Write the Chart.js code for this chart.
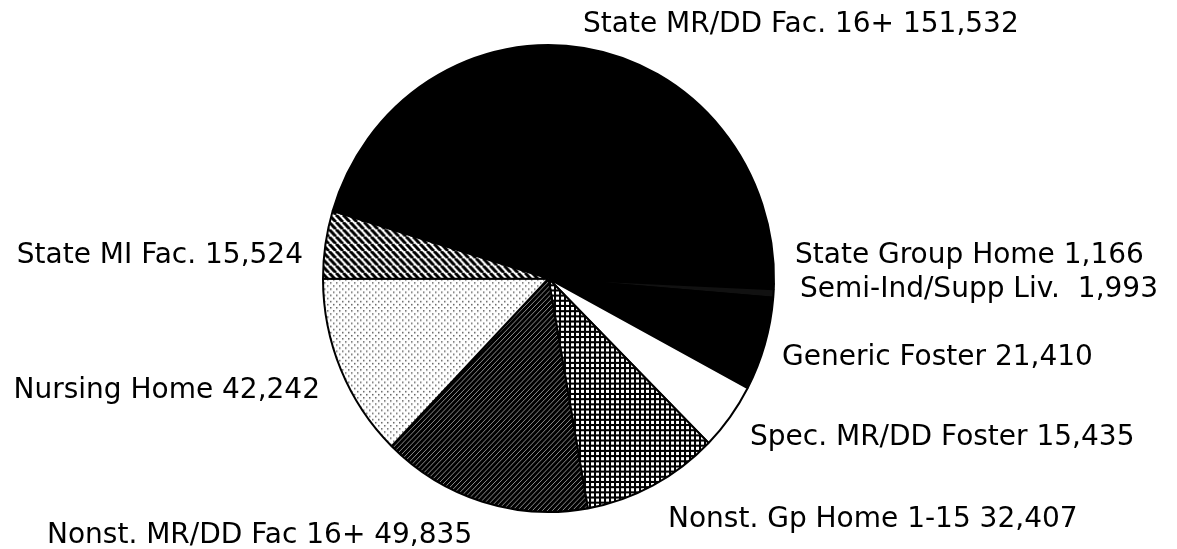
<!DOCTYPE html>
<html lang="en">
  <head>
    <meta charset="UTF-8" />
    <title>Residential placements</title>
    <script src="https://cdn.jsdelivr.net/npm/chart.js"></script>
    <style>
      body { margin: 0; background: #fff; }
      #myChart { display: block; }
    </style>
  </head>
  <body>
    <canvas id="myChart" width="1177" height="549"></canvas>

    <script>
      var categories = [
        "State MR/DD Fac. 16+",
        "State Group Home",
        "Semi-Ind/Supp Liv. ",
        "Generic Foster",
        "Spec. MR/DD Foster",
        "Nonst. Gp Home 1-15",
        "Nonst. MR/DD Fac 16+",
        "Nursing Home",
        "State MI Fac.",
      ];
      var residents = [151532, 1166, 1993, 21410, 15435, 32407, 49835, 42242, 15524];

      // where each label sits: x, text baseline, alignment
      var labelSpots = [
        [583, 32, "left"],
        [795, 263, "left"],
        [800, 297, "left"],
        [782, 365, "left"],
        [750, 445, "left"],
        [668, 527, "left"],
        [47, 543, "left"],
        [320, 398, "right"],
        [303, 263, "right"],
      ];

      function withCommas(v) {
        return String(v).replace(/\B(?=(\d{3})+(?!\d))/g, ",");
      }

      var ctx = document.getElementById("myChart").getContext("2d");

      function makePattern(size, draw) {
        var c = document.createElement("canvas");
        c.width = size;
        c.height = size;
        draw(c.getContext("2d"), size);
        return ctx.createPattern(c, "repeat");
      }

      // state MI: white with heavy "\" hatching
      var backHatch = makePattern(7, function (g, s) {
        g.fillStyle = "#fff";
        g.fillRect(0, 0, s, s);
        g.strokeStyle = "#000";
        g.lineWidth = 3;
        for (var k = -s; k <= s; k += s) {
          g.beginPath();
          g.moveTo(k, 0);
          g.lineTo(k + s, s);
          g.stroke();
        }
      });

      // nonst. group home: black grid with white holes
      var dotGrid = makePattern(5, function (g, s) {
        g.fillStyle = "#000";
        g.fillRect(0, 0, s, s);
        g.fillStyle = "#fff";
        g.fillRect(1, 1, 3, 3);
      });

      // nonst. MR/DD: dark with fine "/" lines
      var fineHatch = makePattern(5, function (g, s) {
        g.fillStyle = "#000";
        g.fillRect(0, 0, s, s);
        g.strokeStyle = "rgba(255,255,255,0.55)";
        g.lineWidth = 1;
        for (var k = -s; k <= s; k += s) {
          g.beginPath();
          g.moveTo(k, s);
          g.lineTo(k + s, 0);
          g.stroke();
        }
      });

      // nursing home: light stipple
      var stipple = makePattern(6, function (g, s) {
        g.fillStyle = "#fff";
        g.fillRect(0, 0, s, s);
        g.fillStyle = "rgba(0,0,0,0.6)";
        g.fillRect(0, 0, 1.5, 1.5);
        g.fillRect(3, 3, 1.5, 1.5);
      });

      var sliceFills = ["#000", "#000", "#111", "#000", "#fff", dotGrid, fineHatch, stipple, backHatch];

      // the original pie is a touch taller than wide
      var stretchPie = {
        id: "stretchPie",
        beforeDatasetsDraw: function (chart) {
          var arc = chart.getDatasetMeta(0).data[0];
          var c = chart.ctx;
          c.save();
          c.translate(arc.x, arc.y);
          c.scale(1, 234.5 / 226.5);
          c.translate(-arc.x, -arc.y);
        },
        afterDatasetsDraw: function (chart) {
          chart.ctx.restore();
        },
      };

      var sliceLabels = {
        id: "sliceLabels",
        afterDraw: function (chart) {
          var c = chart.ctx;
          c.save();
          c.fillStyle = "#000";
          c.font = "28px 'DejaVu Sans'";
          c.textBaseline = "alphabetic";
          for (var i = 0; i < categories.length; i++) {
            c.textAlign = labelSpots[i][2];
            c.fillText(categories[i] + " " + withCommas(residents[i]), labelSpots[i][0], labelSpots[i][1]);
          }
          c.restore();
        },
      };

      var myChart = new Chart(ctx, {
        type: "pie",
        data: {
          labels: categories,
          datasets: [
            {
              data: residents,
              backgroundColor: sliceFills,
              borderColor: "#000",
              borderWidth: 2,
            },
          ],
        },
        options: {
          responsive: false,
          animation: false,
          rotation: 286.8,
          radius: 225.5,
          layout: { padding: { left: 0, right: 80, top: 8, bottom: 0 } },
          plugins: {
            legend: { display: false },
            tooltip: { enabled: false },
          },
        },
        plugins: [stretchPie, sliceLabels],
      });
    </script>
  </body>
